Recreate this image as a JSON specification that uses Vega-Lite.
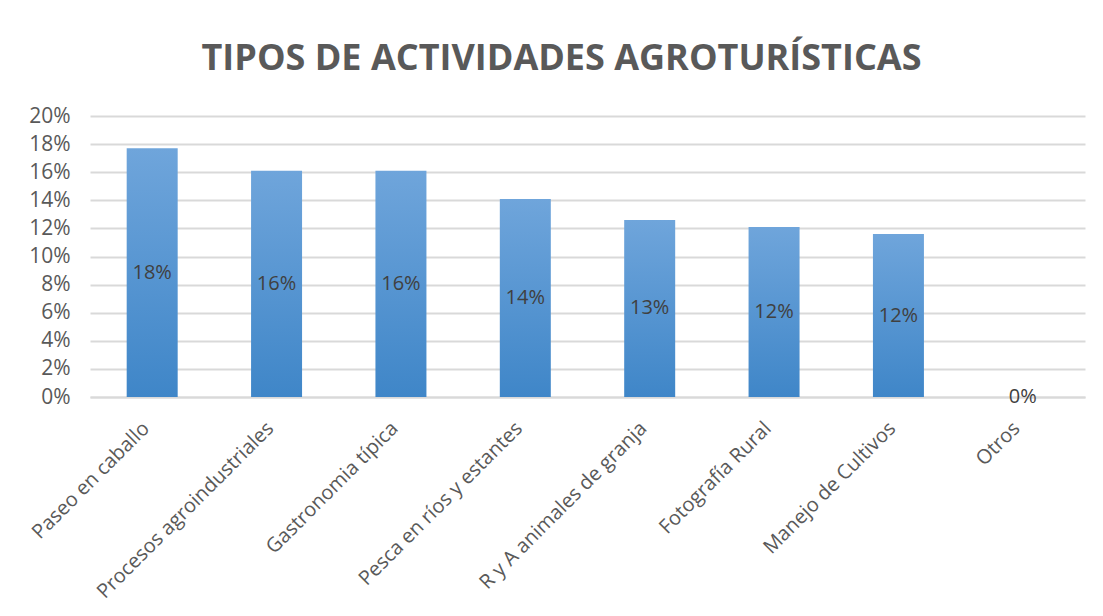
{
  "$schema": "https://vega.github.io/schema/vega-lite/v6.json",
  "width": 995,
  "height": 281,
  "autosize": {"type": "none"},
  "padding": {"left": 90, "top": 116, "right": 18, "bottom": 219},
  "background": "white",
  "title": {
    "text": "TIPOS DE ACTIVIDADES AGROTURÍSTICAS",
    "font": "Open Sans",
    "fontSize": 36,
    "fontWeight": "bold",
    "color": "#595959",
    "anchor": "middle",
    "dx": -26,
    "offset": 27
  },
  "data": {
    "values": [
      {"actividad": "Paseo en caballo", "valor": 0.177},
      {"actividad": "Procesos agroindustriales", "valor": 0.161},
      {"actividad": "Gastronomia típica", "valor": 0.161},
      {"actividad": "Pesca en ríos y estantes", "valor": 0.141},
      {"actividad": "R y A animales de granja", "valor": 0.126},
      {"actividad": "Fotografía Rural", "valor": 0.121},
      {"actividad": "Manejo de Cultivos", "valor": 0.116},
      {"actividad": "Otros", "valor": 0}
    ]
  },
  "transform": [{"calculate": "datum.valor / 2", "as": "medio"}],
  "encoding": {
    "x": {
      "field": "actividad",
      "type": "nominal",
      "sort": null,
      "scale": {"paddingInner": 0.59, "paddingOuter": 0.295},
      "axis": {
        "title": null,
        "labelAngle": -45,
        "labelAlign": "right",
        "labelBaseline": "middle",
        "labelPadding": 28,
        "labelOffset": -6,
        "labelFont": "Open Sans",
        "labelFontSize": 20,
        "labelColor": "#595959",
        "ticks": false,
        "domainColor": "#d9d9d9",
        "domainWidth": 2,
        "labelLimit": 400,
        "labelOverlap": false
      }
    }
  },
  "layer": [
    {
      "mark": {
        "type": "bar",
        "color": {
          "gradient": "linear",
          "x1": 0, "y1": 0, "x2": 0, "y2": 1,
          "stops": [
            {"offset": 0, "color": "#6fa5db"},
            {"offset": 1, "color": "#3f86c8"}
          ]
        }
      },
      "encoding": {
        "y": {
          "field": "valor",
          "type": "quantitative",
          "scale": {"domain": [0, 0.2], "nice": false},
          "axis": {
            "title": null,
            "format": ".0%",
            "values": [0, 0.02, 0.04, 0.06, 0.08, 0.1, 0.12, 0.14, 0.16, 0.18, 0.2],
            "labelFont": "Open Sans",
            "labelFontSize": 21,
            "labelColor": "#595959",
            "labelPadding": 20,
            "labelOverlap": false,
            "ticks": false,
            "domain": false,
            "gridColor": "#d9d9d9",
            "gridWidth": 2
          }
        }
      }
    },
    {
      "mark": {
        "type": "text",
        "font": "Open Sans",
        "fontSize": 20,
        "color": "#404040",
        "baseline": "middle",
        "align": "center",
        "dy": 0
      },
      "encoding": {
        "y": {
          "field": "medio",
          "type": "quantitative",
          "scale": {"domain": [0, 0.2], "nice": false},
          "axis": {
            "title": null,
            "format": ".0%",
            "values": [0, 0.02, 0.04, 0.06, 0.08, 0.1, 0.12, 0.14, 0.16, 0.18, 0.2],
            "labelFont": "Open Sans",
            "labelFontSize": 21,
            "labelColor": "#595959",
            "labelPadding": 20,
            "labelOverlap": false,
            "ticks": false,
            "domain": false,
            "gridColor": "#d9d9d9",
            "gridWidth": 2
          }
        },
        "text": {"field": "valor", "type": "quantitative", "format": ".0%"}
      }
    }
  ],
  "config": {"view": {"stroke": null}}
}
